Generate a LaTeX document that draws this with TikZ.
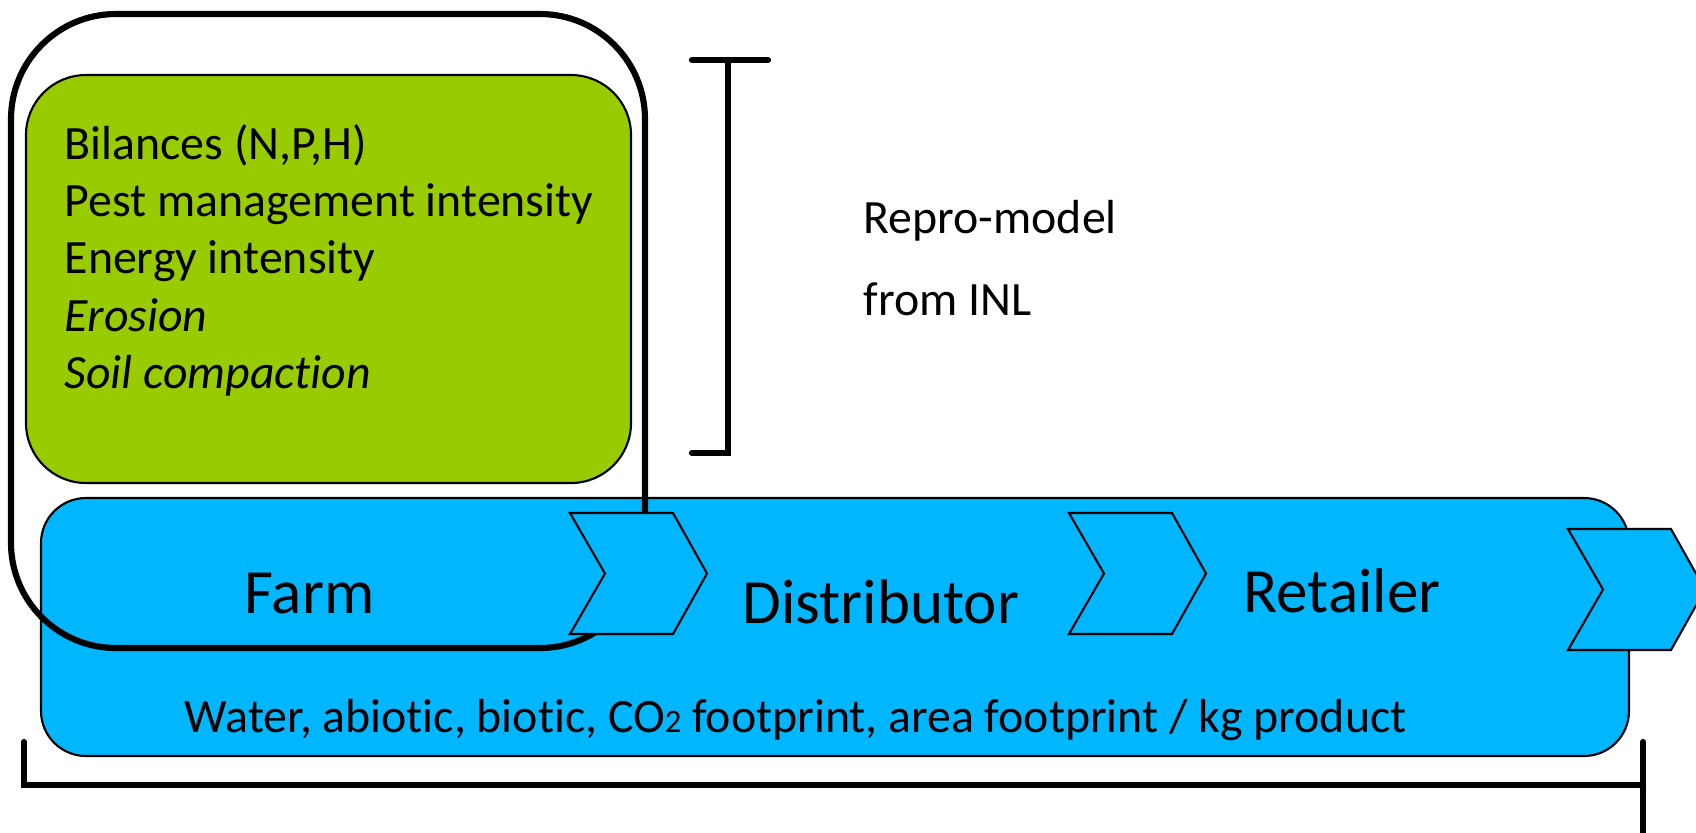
\documentclass[tikz,border=0pt]{standalone}
\usepackage{fontspec}
\setmainfont[RawFeature={-liga;-clig;-calt}]{Carlito}
\definecolor{leaf}{HTML}{99CC00}
\definecolor{sky}{HTML}{00B7FF}
\newcommand\fmid{\fontsize{13.6pt}{15pt}\selectfont}
\newcommand\fbig{\fontsize{17.9pt}{21pt}\selectfont}
\newcommand\fsub{\fontsize{9.3pt}{10pt}\selectfont}
\tikzset{
  thinbox/.style={draw=black, line width=0.6pt},
  chev/.style={fill=sky, draw=black, line width=0.6pt, line join=miter},
  bracket/.style={draw=black, line width=1.8pt, line cap=round},
  lbl/.style={anchor=base west, inner sep=0pt},
  chevron/.pic={\path[chev] (0,0) -- (103,0) -- (137,60.5) -- (103,121) -- (0,121) -- (35,60.5) -- cycle;}
}
\begin{document}
\begin{tikzpicture}[x=0.01cm,y=-0.01cm]
\useasboundingbox (0,0) rectangle (1696,832);
\clip (0,0) rectangle (1696,832);
% blue chain box
\path[thinbox, fill=sky, rounded corners=0.45cm] (41,498) rectangle (1629,756);
% farm boundary
\draw[line width=1.75pt, rounded corners=1.05cm] (11,14) rectangle (645,648);
% green box
\path[thinbox, fill=leaf, rounded corners=0.6cm] (26,75) rectangle (631,483);
% chevrons
\pic at (570,513) {chevron};
\pic at (1069,513) {chevron};
\pic at (1568,529) {chevron};
% brackets
\draw[bracket] (692,60) -- (768,60);
\draw[bracket] (728,60) -- (728,453) -- (692,453);
\draw[bracket] (24,742) -- (24,785) -- (1643,785);
\draw[bracket] (1643,742) -- (1643,850);
% texts
\node[lbl, font=\fmid] (l1) at (64,159) {Bilances (N,P,H)};
\node[lbl, font=\fmid] (l2) at (64,216) {Pest management intensity};
\node[lbl, font=\fmid] (l3) at (64,273) {Energy intensity};
\node[lbl, font=\fmid\itshape] (l4) at (64,331) {Erosion};
\node[lbl, font=\fmid\itshape] (l5) at (64,388) {Soil compaction};
\node[lbl, font=\fmid] (r1) at (863,233) {Repro-model};
\node[lbl, font=\fmid] (r2) at (863,315) {from INL};
\node[lbl, font=\fbig] (farm) at (244,613) {Farm};
\node[lbl, font=\fbig] (dist) at (742,623) {Distributor};
\node[lbl, font=\fbig] (ret) at (1243,612) {Retailer};
\node[lbl, font=\fmid] (foot) at (184,732) {Water, abiotic, biotic, CO{\fsub 2} footprint, area footprint / kg product};
\end{tikzpicture}
\end{document}
